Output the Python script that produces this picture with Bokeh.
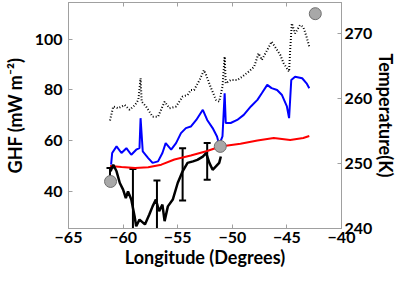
from bokeh.plotting import figure
from bokeh.models import Range1d, LinearAxis, FixedTicker, Whisker, TeeHead, ColumnDataSource
from bokeh.embed import file_html
from bokeh.resources import INLINE

# Dotted black series (GHF, left axis)
dot_lon = [-61.2, -60.9, -60.45, -59.85, -59.4, -58.9, -58.6, -58.4, -58.3, -57.9, -57.3, -56.8,
           -56.2, -55.75, -55.15, -54.55, -54.1, -53.8, -53.5, -53.0, -52.6, -52.4, -52.0, -51.5,
           -51.2, -50.9, -50.7, -50.6, -50.15, -49.55, -49.1, -48.5, -48.0, -47.6, -47.3, -46.8,
           -46.4, -45.9, -45.6, -45.3, -44.8, -44.7, -44.55, -44.25, -43.8, -43.5, -43.2, -42.95]
dot_ghf = [68.0, 73.5, 72.8, 74.1, 72.2, 74.1, 76.1, 84.6, 75.4, 73.5, 69.5, 69.5,
           75.4, 72.8, 73.5, 77.4, 78.0, 80.0, 80.0, 83.9, 87.8, 85.9, 81.3, 76.1,
           75.4, 81.3, 93.1, 82.6, 83.9, 83.9, 85.2, 87.2, 89.1, 94.4, 91.8, 95.7,
           99.0, 95.7, 93.7, 90.5, 87.2, 95.7, 106.2, 102.2, 105.5, 104.8, 100.9, 97.0]

# Blue series (GHF, left axis)
blue_lon = [-61.1, -61.0, -60.6, -60.15, -59.7, -59.25, -58.8, -58.5, -58.4, -58.2, -57.7, -57.3,
            -56.8, -56.4, -56.1, -55.6, -55.15, -54.7, -54.25, -53.8, -53.3, -52.7, -52.3, -51.8,
            -51.4, -51.2, -50.9, -50.7, -50.6, -50.15, -49.55, -48.95, -48.3, -47.7, -47.3, -46.8,
            -46.4, -45.9, -45.45, -45.0, -44.8, -44.6, -44.25, -43.6, -43.2, -42.95]
blue_ghf = [50.6, 55.2, 57.8, 55.2, 57.1, 54.5, 56.5, 57.1, 68.9, 55.8, 53.2, 51.3,
            51.9, 55.2, 59.1, 56.5, 59.1, 63.0, 65.0, 65.6, 68.2, 72.2, 68.2, 65.0,
            61.7, 58.4, 61.7, 78.7, 67.0, 67.0, 68.2, 70.2, 73.5, 76.1, 78.7, 82.0,
            80.7, 80.0, 78.0, 73.5, 68.9, 83.9, 85.2, 84.6, 82.6, 80.7]

# Red series (Temperature, right axis)
red_lon = [-61.2, -60.15, -58.9, -57.7, -56.5, -55.3, -53.8, -52.3, -51.1, -49.25, -47.7, -46.2,
           -44.7, -43.5, -42.95]
red_temp = [249.6, 249.45, 249.3, 249.4, 249.8, 250.6, 251.2, 251.9, 252.6, 253.0, 253.5, 253.9,
            253.6, 253.9, 254.2]

# Black solid series (GHF, left axis)
blk_lon = [-61.15, -60.9, -60.6, -60.3, -60.0, -59.75, -59.55, -59.25, -58.95, -58.8, -58.5, -58.0,
           -57.6, -57.3, -57.0, -56.7, -56.4, -56.2, -55.9, -55.45, -55.0, -54.55, -54.1, -53.6,
           -53.2, -52.7, -52.4, -52.1, -51.8, -51.5, -51.2, -51.05]
blk_ghf = [48.0, 50.6, 48.0, 43.4, 40.8, 37.5, 40.1, 36.9, 30.3, 26.4, 29.0, 27.1,
           31.0, 34.2, 36.9, 32.3, 34.9, 28.4, 34.2, 36.9, 43.4, 48.0, 51.3, 51.9,
           52.5, 53.8, 55.2, 51.3, 48.6, 49.9, 51.3, 53.8]

# Error bars
err_lon = [-61.2, -59.1, -56.9, -54.55, -52.3]
err_low = [44.0, 25.0, 25.0, 36.5, 44.7]
err_high = [49.3, 48.9, 44.4, 57.1, 59.1]

# Grey markers
mark_lon = [-61.15, -51.1, -42.4]
mark_ghf = [44.0, 57.8, 110.0]

x_ticks = [-65, -60, -55, -50, -45, -40]
left_ticks = [40, 60, 80, 100]
right_ticks = [240, 250, 260, 270]

FONT = "Lato"
GREY = "#a0a0a0"

p = figure(width=400, height=270, x_range=Range1d(-65, -40), y_range=Range1d(25.5, 114.4),
           output_backend="svg", toolbar_location=None,
           min_border_left=62, min_border_right=30, min_border_top=2, min_border_bottom=30)
p.extra_y_ranges = {"temp": Range1d(240, 274.7)}
p.grid.visible = False
p.outline_line_color = GREY
p.background_fill_color = "white"

def style_axis(ax, label_size="16px"):
    ax.major_label_text_font = FONT
    ax.major_label_text_font_style = "bold"
    ax.major_label_text_font_size = label_size
    ax.major_label_text_color = "black"
    ax.axis_label_text_font = FONT
    ax.axis_label_text_font_style = "bold"
    ax.axis_label_text_font_size = "18px"
    ax.axis_label_text_color = "black"
    ax.axis_line_color = GREY
    ax.major_tick_line_color = GREY
    ax.major_tick_in = 4
    ax.major_tick_out = 0
    ax.minor_tick_line_color = None

p.xaxis.ticker = FixedTicker(ticks=x_ticks)
p.xaxis.axis_label = "Longitude (Degrees)"
style_axis(p.xaxis[0])
p.xaxis.major_label_standoff = 3
p.xaxis.axis_label_standoff = 0

p.yaxis.ticker = FixedTicker(ticks=left_ticks)
p.yaxis.axis_label = "GHF (mW m\u207b\u00b2)"
style_axis(p.yaxis[0])
p.yaxis.major_label_standoff = 6
p.yaxis.axis_label_standoff = 6

raxis = LinearAxis(y_range_name="temp", ticker=FixedTicker(ticks=right_ticks),
                   axis_label="Temperature(K)")
style_axis(raxis)
raxis.major_label_standoff = 3
raxis.axis_label_standoff = 0
raxis.axis_label_orientation = "vertical"
p.add_layout(raxis, "right")

# top edge: tick marks only (minor ticks carry no labels)
taxis = LinearAxis(ticker=FixedTicker(ticks=[], minor_ticks=x_ticks), axis_label=None)
taxis.axis_line_color = GREY
taxis.major_tick_line_color = None
taxis.minor_tick_line_color = GREY
taxis.minor_tick_in = 4
taxis.minor_tick_out = 0
taxis.major_label_standoff = 0
p.add_layout(taxis, "above")

p.line(dot_lon, dot_ghf, line_color="black", line_width=2, line_dash="1 2")
p.line(blue_lon, blue_ghf, line_color="#0000ff", line_width=2)
p.line(red_lon, red_temp, line_color="#ff0000", line_width=2, y_range_name="temp")
p.line(blk_lon, blk_ghf, line_color="black", line_width=2.5)

p.scatter(mark_lon, mark_ghf, size=12, fill_color="#a8a8a8", line_color="#707070", line_width=1)

src = ColumnDataSource(dict(x=err_lon, lo=err_low, hi=err_high))
wh = Whisker(source=src, base="x", lower="lo", upper="hi", line_color="black", line_width=2,
             upper_head=TeeHead(size=7, line_color="black", line_width=2),
             lower_head=TeeHead(size=7, line_color="black", line_width=2))
p.add_layout(wh)

open("out.html", "w").write(file_html(p, INLINE))
